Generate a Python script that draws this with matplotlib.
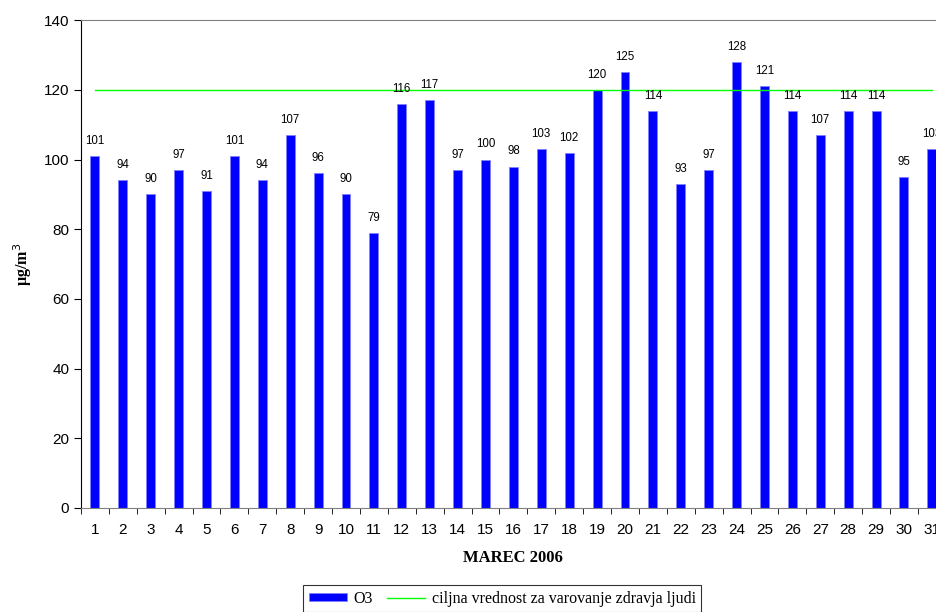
import matplotlib.pyplot as plt

# Data
days = list(range(1, 32))
o3 = [101, 94, 90, 97, 91, 101, 94, 107, 96, 90, 79, 116, 117, 97, 100, 98,
      103, 102, 120, 125, 114, 93, 97, 128, 121, 114, 107, 114, 114, 95, 103]
target_value = 120

fig = plt.figure(figsize=(9.37, 6.12), dpi=100)
ax = fig.add_axes([0.0864, 0.170, 0.923, 0.797])

bars = ax.bar(days, o3, width=0.32, color='#0000ff', edgecolor='#8080ff',
              linewidth=0.6, label='O3', zorder=2)
line, = ax.plot([days[0], days[-1]], [target_value, target_value], color='#00ff00',
                linewidth=1.0, label='ciljna vrednost za varovanje zdravja ljudi', zorder=3)

# value labels above bars
for d, v in zip(days, o3):
    ax.text(d, v + 2.6, f'{v}', ha='center', va='bottom', fontsize=8.3,
            family='Liberation Sans')

ax.set_xlim(0.5, 31.5)
ax.set_ylim(0, 140)
ax.set_yticks(range(0, 141, 20))
ax.set_xticks(days)
ax.set_xticks([d + 0.5 for d in range(0, 32)], minor=True)
ax.tick_params(axis='x', which='major', length=0, pad=11, labelsize=11)
ax.tick_params(axis='x', which='minor', length=4, direction='out', color='black')
ax.tick_params(axis='y', length=5, direction='out', labelsize=11)
for lab in ax.get_xticklabels() + ax.get_yticklabels():
    lab.set_family('Liberation Sans')

ax.spines['top'].set_color('#808080')
ax.spines['right'].set_visible(False)
ax.spines['bottom'].set_color('#808080')
ax.spines['left'].set_color('black')

ax.set_xlabel('MAREC 2006', fontsize=12, fontweight='bold',
              family='Liberation Serif', labelpad=9)
ax.set_ylabel('µg/m$^3$', fontsize=11.5, fontweight='bold',
              family='Liberation Serif', labelpad=7)

leg = fig.legend([bars, line], [bars.get_label(), line.get_label()],
                 loc='upper center', bbox_to_anchor=(0.536, 1 - 585 / 612), ncol=2,
                 frameon=True, fancybox=False, edgecolor='black',
                 prop={'family': 'Liberation Serif', 'size': 11.5},
                 handlelength=2.4, handleheight=0.4, columnspacing=0.9,
                 handletextpad=0.4, borderpad=0.35, borderaxespad=0)
leg.get_frame().set_linewidth(0.8)

plt.savefig('out.png', dpi=100)
